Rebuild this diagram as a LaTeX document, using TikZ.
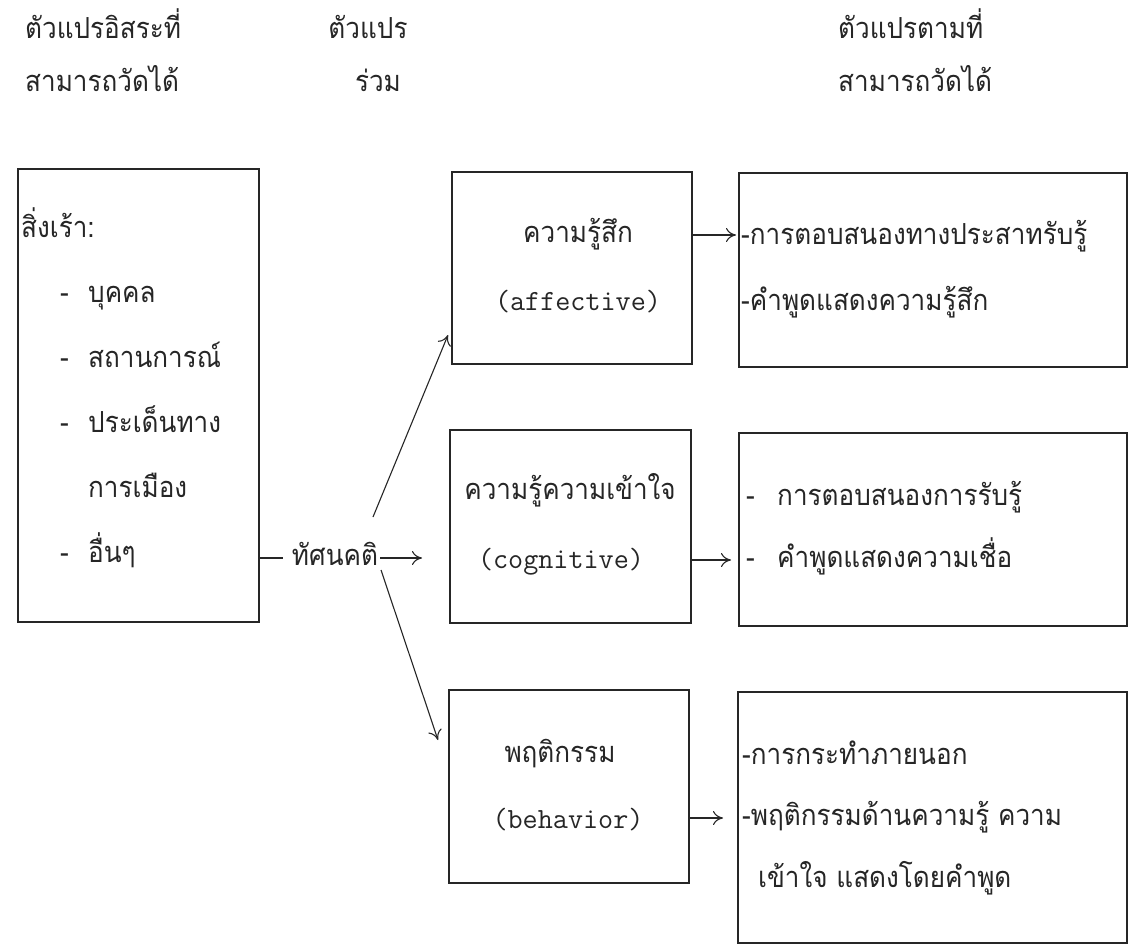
\documentclass[tikz,border=0pt]{standalone}
\usepackage{fontspec}
\newfontfamily\thai[Script=Thai,FakeStretch=0.9]{Loma}
\usetikzlibrary{arrows.meta}
\begin{document}
\begin{tikzpicture}[x=1pt,y=-1pt,
  box/.style={draw=black!85, line width=1.2pt, inner sep=0pt},
  th/.style={font=\thai\fontsize{29}{33}\selectfont, text=black!85, inner sep=0pt},
  en/.style={font=\ttfamily\fontsize{29.3}{33}\selectfont, text=black!85, inner sep=0pt},
  arr/.style={draw=black!85, line width=1.1pt, -{To[length=10pt,width=14pt]}},
  ln/.style={draw=black!85, line width=1.1pt}]
\useasboundingbox[fill=white] (0,0) rectangle (1129,944);

% headers
\node[th, anchor=base west] (h1a) at (25,39) {ตัวแปรอิสระที่};
\node[th, anchor=base west] (h1b) at (25,92) {สามารถวัดได้};
\node[th, anchor=base] (h2a) at (368,39) {ตัวแปร};
\node[th, anchor=base] (h2b) at (378,92) {ร่วม};
\node[th, anchor=base west] (h3a) at (838,39) {ตัวแปรตามที่};
\node[th, anchor=base west] (h3b) at (838,92) {สามารถวัดได้};

% boxes
\node[box, minimum width=241pt, minimum height=453pt] (L) at (138.5,395.5) {};
\node[box, minimum width=240pt, minimum height=192pt] (A) at (572,268) {};
\node[box, minimum width=241pt, minimum height=193pt] (C) at (570.5,526.5) {};
\node[box, minimum width=240pt, minimum height=193pt] (B) at (569,786.5) {};
\node[box, minimum width=388pt, minimum height=194pt] (R1) at (933,270) {};
\node[box, minimum width=388pt, minimum height=193pt] (R2) at (933,529.5) {};
\node[box, minimum width=389pt, minimum height=251pt] (R3) at (932.5,817.5) {};

% left box text
\node[th, anchor=base west] (s0) at (21,237) {สิ่งเร้า:};
\node[th, anchor=base west] (d1) at (60,302) {-};
\node[th, anchor=base west] (s1) at (88,302) {บุคคล};
\node[th, anchor=base west] (d2) at (60,367) {-};
\node[th, anchor=base west] (s2) at (88,367) {สถานการณ์};
\node[th, anchor=base west] (d3) at (60,432) {-};
\node[th, anchor=base west] (s3) at (88,432) {ประเด็นทาง};
\node[th, anchor=base west] (s4) at (88,497) {การเมือง};
\node[th, anchor=base west] (d5) at (60,562) {-};
\node[th, anchor=base west] (s5) at (88,562) {อื่นๆ};

% middle
\node[th, anchor=base] (T) at (335,565) {ทัศนคติ};

% component boxes text
\node[th, anchor=base] (a1) at (578,242) {ความรู้สึก};
\node[en, anchor=base] (a2) at (578,310) {(affective)};
\node[th, anchor=base] (c1) at (570,499) {ความรู้ความเข้าใจ};
\node[en, anchor=base] (c2) at (561,568) {(cognitive)};
\node[th, anchor=base] (b1) at (560,762) {พฤติกรรม};
\node[en, anchor=base] (b2) at (568,828) {(behavior)};

% right boxes text
\node[th, anchor=base west] (p1) at (741,244) {-การตอบสนองทางประสาทรับรู้};
\node[th, anchor=base west] (p2) at (741,310) {-คำพูดแสดงความรู้สึก};
\node[th, anchor=base west] (q0) at (746,505) {-};
\node[th, anchor=base west] (q1) at (777,505) {การตอบสนองการรับรู้};
\node[th, anchor=base west] (q2) at (746,567) {-};
\node[th, anchor=base west] (q3) at (777,567) {คำพูดแสดงความเชื่อ};
\node[th, anchor=base west] (w1) at (742,764) {-การกระทำภายนอก};
\node[th, anchor=base west] (w2) at (742,825) {-พฤติกรรมด้านความรู้ ความ};
\node[th, anchor=base west] (w3) at (758,887) {เข้าใจ แสดงโดยคำพูด};

% connectors
\coordinate (t0) at (283,558);
\coordinate (t1) at (380,558);
\coordinate (t2) at (422,558);
\coordinate (ua) at (373,517);
\coordinate (ue) at (448,335);
\coordinate (da) at (381,570);
\coordinate (de) at (438,740);
\coordinate (r1e) at (736,235);
\coordinate (r2e) at (731,560);
\coordinate (r3e) at (723,818);
\draw[ln] (L.east |- t0) -- (t0);
\draw[arr] (t1) -- (t2);
\draw[arr] (ua) -- (ue);
\draw[arr] (da) -- (de);
\draw[arr] (A.east |- r1e) -- (r1e);
\draw[arr] (C.east |- r2e) -- (r2e);
\draw[arr] (B.east |- r3e) -- (r3e);
\end{tikzpicture}
\end{document}
